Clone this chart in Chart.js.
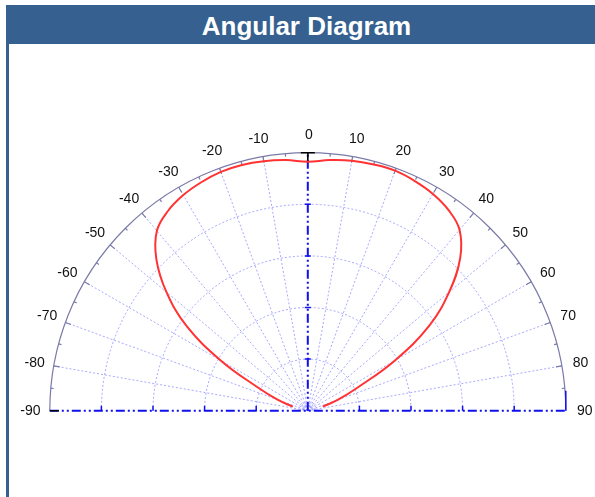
<!DOCTYPE html>
<html>
<head>
<meta charset="utf-8">
<title>Angular Diagram</title>
<script src="https://cdn.jsdelivr.net/npm/chart.js@4.4.1/dist/chart.umd.min.js"></script>
<style>
  body { margin: 0; background: #fff; width: 595px; height: 497px; overflow: hidden; position: relative; }
  #header {
    position: absolute; left: 6px; top: 5px; width: 589px; height: 39px;
    background: #35608f; color: #fff; font: bold 26px "Liberation Sans", Arial, sans-serif;
    line-height: 36px; padding-top: 3px; text-align: center; box-sizing: border-box; padding-left: 12px; z-index: 2;
  }
  #side { position: absolute; left: 6px; top: 44px; width: 3px; height: 453px; background: #35608f; z-index: 2; }
  #chart { position: absolute; left: 0; top: 0; z-index: 1; }
</style>
</head>
<body>
<div id="header">Angular Diagram</div>
<div id="side"></div>
<canvas id="chart" width="595" height="497"></canvas>
<script>
// emission angle (deg) and relative intensity
const angles = [-75, -70, -65, -60, -55, -50, -45, -40, -35, -30, -25, -20, -15, -10, -5, 0,
                5, 10, 15, 20, 25, 30, 35, 40, 45, 50, 55, 60, 65, 70, 75];
const intensity = [0.06, 0.125, 0.215, 0.39, 0.575, 0.715, 0.83, 0.91, 0.945, 0.965, 0.977, 0.985, 0.986, 0.982, 0.975, 0.965,
                   0.975, 0.984, 0.988, 0.99, 0.982, 0.97, 0.95, 0.915, 0.835, 0.715, 0.575, 0.39, 0.215, 0.125, 0.06];

// grid
const angleTicks = [-90, -80, -70, -60, -50, -40, -30, -20, -10, 0, 10, 20, 30, 40, 50, 60, 70, 80, 90];
const ringTicks = [0.2, 0.4, 0.6, 0.8];
const innerRings = [0.016, 0.028];

const toRad = d => d * Math.PI / 180;
const points = angles.map((a, i) => ({
    x: intensity[i] * Math.sin(toRad(a)),
    y: intensity[i] * Math.cos(toRad(a))
}));

const CX = 307.8, CY = 410.7, R = 258;

// draws the polar grid, axes and angle labels using the scales
const polarGrid = {
    id: 'polarGrid',
    beforeDatasetsDraw(chart) {
        const ctx = chart.ctx;
        const sx = chart.scales.x, sy = chart.scales.y;
        const px = (r, a) => sx.getPixelForValue(r * Math.sin(toRad(a)));
        const py = (r, a) => sy.getPixelForValue(r * Math.cos(toRad(a)));
        const cx = sx.getPixelForValue(0), cy = sy.getPixelForValue(0);
        const rad = sx.getPixelForValue(1) - cx;

        ctx.save();
        // dotted rings and spokes
        ctx.strokeStyle = 'rgba(110,110,255,0.6)';
        ctx.lineWidth = 1;
        ctx.setLineDash([2, 2]);
        ringTicks.concat(innerRings).forEach(r => {
            ctx.beginPath();
            ctx.arc(cx, cy, r * rad, Math.PI, 2 * Math.PI);
            ctx.stroke();
        });
        angleTicks.forEach(a => {
            if (a === 0 || Math.abs(a) === 90) return;
            ctx.beginPath();
            ctx.moveTo(cx, cy);
            ctx.lineTo(px(1, a), py(1, a));
            ctx.stroke();
        });
        ctx.setLineDash([]);

        // outer arc with ticks
        ctx.strokeStyle = '#7a7aa8';
        ctx.lineWidth = 1.2;
        ctx.beginPath();
        ctx.arc(cx, cy, rad, Math.PI, 2 * Math.PI);
        ctx.stroke();
        for (let a = -85; a <= 85; a += 5) {
            const len = a % 10 === 0 ? 6 : 3;
            ctx.beginPath();
            ctx.moveTo(px(1, a), py(1, a));
            ctx.lineTo(px(1 - len / rad, a), py(1 - len / rad, a));
            ctx.stroke();
        }

        // blue dash-dot axes
        ctx.strokeStyle = '#1010ee';
        ctx.lineWidth = 2;
        ctx.setLineDash([9, 3, 2, 3, 2, 3]);
        ctx.beginPath();
        ctx.moveTo(px(1, -90), cy);
        ctx.lineTo(px(1, 90), cy);
        ctx.moveTo(cx, cy);
        ctx.lineTo(cx, py(1, 0));
        ctx.stroke();
        ctx.setLineDash([]);
        ctx.lineWidth = 1.5;
        ringTicks.forEach(r => {
            const d = r * rad;
            ctx.beginPath();
            ctx.moveTo(cx - d, cy); ctx.lineTo(cx - d, cy - 5);
            ctx.moveTo(cx + d, cy); ctx.lineTo(cx + d, cy - 5);
            ctx.moveTo(cx - 3, cy - d); ctx.lineTo(cx + 3, cy - d);
            ctx.stroke();
        });
        ctx.beginPath();
        ctx.moveTo(cx + rad, cy); ctx.lineTo(cx + rad, cy - 20);
        ctx.stroke();

        // black end marks
        ctx.strokeStyle = '#000';
        ctx.lineWidth = 1.5;
        ctx.beginPath();
        ctx.moveTo(cx - 7, cy - rad); ctx.lineTo(cx + 7, cy - rad);
        ctx.moveTo(cx, cy - rad); ctx.lineTo(cx, cy - rad + 10);
        ctx.moveTo(cx - rad, cy); ctx.lineTo(cx - rad + 9, cy);
        ctx.stroke();

        // angle labels, digits centred on the ray, minus sign hangs left
        ctx.fillStyle = '#111';
        ctx.font = '14px "Liberation Sans", Arial, sans-serif';
        ctx.textAlign = 'right';
        ctx.textBaseline = 'middle';
        const lr = 1 + 18 / rad;
        angleTicks.forEach(a => {
            const w = ctx.measureText(String(Math.abs(a))).width;
            ctx.fillText(String(a), px(lr, a) + 1 + w / 2, py(lr, a));
        });
        ctx.restore();
    }
};

new Chart(document.getElementById('chart'), {
    type: 'scatter',
    data: {
        datasets: [{
            data: points,
            showLine: true,
            borderColor: '#ff3333',
            borderWidth: 2,
            pointRadius: 0,
            tension: 0.4,
            fill: false
        }]
    },
    options: {
        responsive: false,
        animation: false,
        layout: {
            padding: { left: CX - R, right: 595 - (CX + R), top: CY - R, bottom: 497 - CY }
        },
        scales: {
            x: { type: 'linear', min: -1, max: 1, display: false },
            y: { type: 'linear', min: 0, max: 1, display: false }
        },
        plugins: { legend: { display: false }, tooltip: { enabled: false } }
    },
    plugins: [polarGrid]
});
</script>
</body>
</html>
